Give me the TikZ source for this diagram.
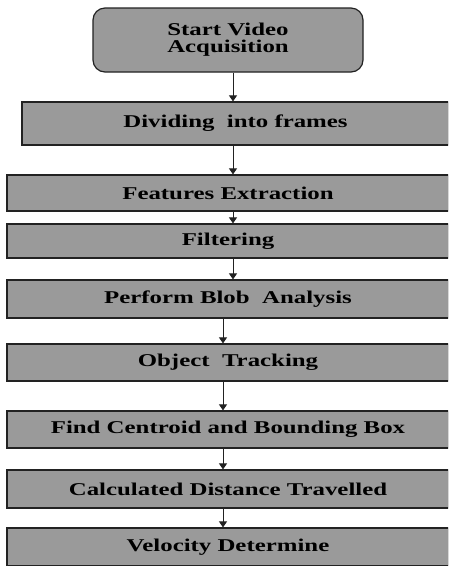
\documentclass[tikz,border=0pt]{standalone}
\usepackage{fontspec}
\setmainfont{Liberation Serif}
\usetikzlibrary{arrows.meta}
\definecolor{boxgray}{RGB}{154,154,154}
\definecolor{edgec}{RGB}{34,34,34}
\newcommand{\wide}[1]{\scalebox{1.38}[1]{#1}}
\begin{document}
\begin{tikzpicture}[x=1pt,y=-1pt,
  boxbase/.style={draw=edgec, fill=boxgray, line width=1.2pt, inner sep=0pt,
    font=\fontsize{18}{17}\selectfont\bfseries, align=center},
  procbox/.style={boxbase, minimum width=442pt},
  startbox/.style={boxbase, rounded corners=12pt, minimum width=270pt, minimum height=64pt},
  flow/.style={draw=edgec, line width=1pt, -{Triangle[width=8pt,length=6pt]}},
  leftedge/.style={draw=edgec, line width=2.4pt}]
\useasboundingbox (0,0) rectangle (448,566);
\clip (0,0) rectangle (448,566);
\fill[white] (0,0) rectangle (448,566);

\node[startbox] (start) at (228,40) {\wide{Start Video}\\\wide{Acquisition}};
\node[boxbase, minimum width=427pt, minimum height=43pt] (div) at (235.5,123.5) {\wide{Dividing\ \ into frames}};
\node[procbox, minimum height=36pt] (feat) at (228,193) {\wide{Features Extraction}};
\node[procbox, minimum height=34pt] (filt) at (228,241) {\wide{Filtering}};
\node[procbox, minimum height=38pt] (blob) at (228,299) {\wide{Perform Blob\ \ Analysis}};
\node[procbox, minimum height=37pt] (obj) at (228,362.5) {\wide{Object\ \ Tracking}};
\node[procbox, minimum height=37pt] (find) at (228,429.5) {\wide{Find Centroid and Bounding Box}};
\node[procbox, minimum height=38pt] (calc) at (228,489) {\wide{Calculated Distance Travelled}};
\node[procbox, minimum height=38pt] (vel) at (228,547) {\wide{Velocity Determine}};

\foreach \n in {div,feat,filt,blob,obj,find,calc,vel}
  \draw[leftedge] ([xshift=0.6pt]\n.north west) -- ([xshift=0.6pt]\n.south west);

\coordinate (ca) at (233,0);
\coordinate (cb) at (223,0);
\draw[flow] (start.south -| ca) -- (div.north -| ca);
\draw[flow] (div.south -| ca) -- (feat.north -| ca);
\draw[flow] (feat.south -| ca) -- (filt.north -| ca);
\draw[flow] (filt.south -| ca) -- (blob.north -| ca);
\draw[flow] (blob.south -| cb) -- (obj.north -| cb);
\draw[flow] (obj.south -| cb) -- (find.north -| cb);
\draw[flow] (find.south -| cb) -- (calc.north -| cb);
\draw[flow] (calc.south -| cb) -- (vel.north -| cb);
\end{tikzpicture}
\end{document}
